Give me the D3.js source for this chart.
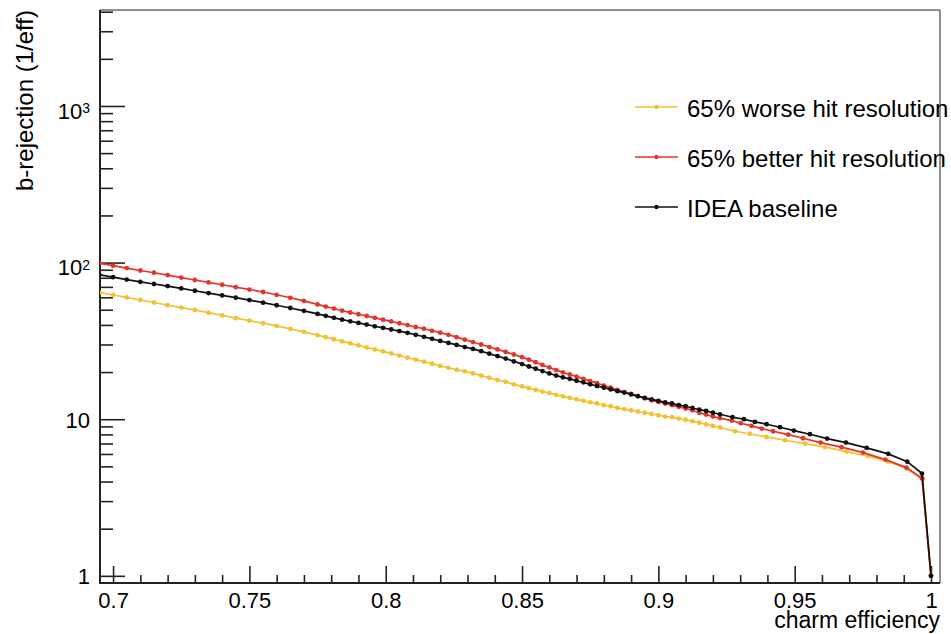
<!DOCTYPE html>
<html>
<head>
<meta charset="utf-8">
<script src="https://cdn.jsdelivr.net/npm/d3@7"></script>
<style>
  body { margin: 0; background: #fff; }
  svg { display: block; font-family: "Liberation Sans", Arial, Helvetica, sans-serif; }
</style>
</head>
<body>
<svg id="chart"></svg>
<script>
// ---- data ----
const seriesNames = ['65% worse hit resolution', '65% better hit resolution', 'IDEA baseline'];
const seriesColors = ['#f2c232', '#e5342b', '#111111'];

// charm efficiency points shared by the main part of the three curves
const effGrid = [
  0.695, 0.700, 0.705, 0.710, 0.715, 0.720, 0.725, 0.730, 0.735, 0.740, 0.745, 0.750, 0.755, 0.760, 0.765, 0.770, 0.775,
  0.778, 0.781, 0.784, 0.787, 0.790, 0.793, 0.796, 0.799, 0.802, 0.805, 0.808, 0.811, 0.814, 0.817, 0.820, 0.823, 0.826,
  0.829, 0.832, 0.835, 0.838, 0.841, 0.844, 0.847, 0.850,
  0.8525, 0.855, 0.8575, 0.860, 0.8625, 0.865, 0.8675, 0.870, 0.8725, 0.875, 0.8775, 0.880, 0.8825, 0.885, 0.8875, 0.890,
  0.8925, 0.895, 0.8975, 0.900, 0.9025, 0.905, 0.9075, 0.910, 0.9125, 0.915, 0.9175, 0.920
];

// b-rejection on effGrid
const worseRej = [
  64.3, 62.1, 59.9, 57.7, 55.6, 53.5, 51.6, 49.8, 47.9, 46.0, 44.2, 42.6, 41.0, 39.4, 37.7, 36.1, 34.4,
  33.4, 32.4, 31.4, 30.5, 29.6, 28.7, 27.9, 27.1, 26.3, 25.5, 24.7, 24.0, 23.3, 22.6, 21.9, 21.3, 20.7,
  20.2, 19.6, 19.0, 18.4, 17.8, 17.3, 16.7, 16.2,
  15.8, 15.4, 15.0, 14.7, 14.3, 14.0, 13.7, 13.4, 13.1, 12.8, 12.6, 12.3, 12.1, 11.8, 11.6, 11.4,
  11.2, 11.0, 10.8, 10.6, 10.4, 10.3, 10.1, 9.92, 9.71, 9.49, 9.27, 9.06
];
const betterRej = [
  99.1, 95.6, 92.2, 89.0, 86.1, 83.2, 80.2, 77.4, 74.7, 72.2, 69.7, 67.3, 64.9, 62.3, 59.6, 56.9, 54.1,
  52.4, 50.9, 49.3, 48.0, 46.8, 45.6, 44.4, 43.2, 42.1, 41.0, 39.9, 38.8, 37.8, 36.7, 35.7, 34.6, 33.4,
  32.2, 31.1, 30.0, 28.9, 27.9, 26.9, 25.9, 24.9,
  24.0, 23.1, 22.2, 21.4, 20.6, 19.9, 19.3, 18.7, 18.1, 17.5, 17.0, 16.4, 15.9, 15.4, 14.9, 14.5,
  14.1, 13.6, 13.2, 12.9, 12.6, 12.3, 12.0, 11.7, 11.4, 11.0, 10.7, 10.4
];
const baselineRej = [
  83.5, 80.7, 77.9, 75.4, 73.0, 70.8, 68.4, 66.1, 63.9, 61.7, 59.7, 57.6, 55.5, 53.4, 51.3, 49.2, 47.0,
  45.7, 44.4, 43.2, 42.2, 41.2, 40.2, 39.2, 38.3, 37.4, 36.5, 35.6, 34.6, 33.6, 32.6, 31.6, 30.7, 29.8,
  28.9, 28.1, 27.2, 26.2, 25.3, 24.4, 23.4, 22.5,
  21.7, 21.0, 20.3, 19.6, 19.0, 18.5, 18.1, 17.6, 17.2, 16.7, 16.3, 15.9, 15.5, 15.1, 14.8, 14.4,
  14.0, 13.7, 13.4, 13.1, 12.8, 12.6, 12.3, 12.1, 11.8, 11.5, 11.3, 11.0
];

// high efficiency tails (own points per curve)
const worseTailEff = [0.9226, 0.9281, 0.9336, 0.9397, 0.9464, 0.9538, 0.9611, 0.9690, 0.9770, 0.9843, 0.9910, 0.9969, 1.0];
const worseTailRej = [8.85, 8.38, 8.05, 7.71, 7.34, 6.99, 6.63, 6.21, 5.81, 5.36, 4.84, 4.14, 1.0];
const betterTailEff = [0.9226, 0.9269, 0.9302, 0.9342, 0.9379, 0.9421, 0.9476, 0.9531, 0.9595, 0.9672, 0.9751, 0.9833, 0.9910, 0.9967, 1.0];
const betterTailRej = [10.15, 9.80, 9.43, 9.06, 8.71, 8.38, 7.97, 7.56, 7.09, 6.63, 6.12, 5.52, 4.91, 4.20, 1.0];
const baselineTailEff = [0.9226, 0.9272, 0.9314, 0.9354, 0.9397, 0.9446, 0.9497, 0.9556, 0.9619, 0.9688, 0.9764, 0.9843, 0.9913, 0.9967, 1.0];
const baselineTailRej = [10.75, 10.30, 10.0, 9.61, 9.29, 8.89, 8.46, 8.02, 7.52, 7.09, 6.56, 6.01, 5.36, 4.50, 1.0];

// axis ticks
const xTickValues = [0.7, 0.75, 0.8, 0.85, 0.9, 0.95, 1];
const xTickLabels = ['0.7', '0.75', '0.8', '0.85', '0.9', '0.95', '1'];
const yTickValues = [1, 10, 100, 1000];
const yTickBases = ['1', '10', '10', '10'];
const yTickPowers = ['', '', '2', '3'];

// ---- layout ----
const width = 951;
const height = 634;
const frame = { left: 100, right: 940, top: 10, bottom: 583 };

const svg = d3.select('#chart').attr('width', width).attr('height', height);

const x = d3.scaleLinear().domain([0.6952, 1.0033]).range([frame.left, frame.right]);
const y = d3.scaleLog().domain([0.9, 4100]).range([frame.bottom, frame.top]);

const makeSeries = (rej, tailEff, tailRej) =>
  effGrid.map((e, i) => ({ eff: e, rej: rej[i] }))
    .concat(tailEff.map((e, i) => ({ eff: e, rej: tailRej[i] })));

const series = [
  makeSeries(worseRej, worseTailEff, worseTailRej),
  makeSeries(betterRej, betterTailEff, betterTailRej),
  makeSeries(baselineRej, baselineTailEff, baselineTailRej)
];

svg.append('rect').attr('width', width).attr('height', height).attr('fill', '#fff');

// clip the curves to the frame
svg.append('clipPath').attr('id', 'frameClip')
  .append('rect')
  .attr('x', frame.left).attr('y', frame.top)
  .attr('width', frame.right - frame.left).attr('height', frame.bottom - frame.top);

// ---- axes (ROOT style, ticks pointing inwards) ----
const xMinor = d3.range(70, 101).map((d) => d / 100).filter((d) => !xTickValues.some((t) => Math.abs(t - d) < 1e-6));
const yMinor = [];
[1, 10, 100, 1000].forEach((dec) => {
  for (let k = 2; k <= 9; k++) if (dec * k < 4100) yMinor.push(dec * k);
});

const xAxisG = svg.append('g').attr('transform', 'translate(0,' + frame.bottom + ')');
xAxisG.call(d3.axisBottom(x).tickValues(xMinor).tickSize(-8).tickSizeOuter(0).tickFormat(''));
xAxisG.append('g').call(
  d3.axisBottom(x).tickValues(xTickValues).tickSize(-17).tickSizeOuter(0).tickPadding(9)
    .tickFormat((d, i) => xTickLabels[i])
);
xAxisG.selectAll('.domain').remove();
xAxisG.selectAll('line').attr('stroke', '#222').attr('stroke-width', 1.6);
xAxisG.selectAll('text').attr('fill', '#000').style('font-size', '22px').style('font-family', 'inherit');

const yAxisG = svg.append('g').attr('transform', 'translate(' + frame.left + ',0)');
yAxisG.call(d3.axisLeft(y).tickValues(yMinor).tickSize(-13).tickSizeOuter(0).tickFormat(''));
const yMajorG = yAxisG.append('g').call(
  d3.axisLeft(y).tickValues(yTickValues).tickSize(-25).tickSizeOuter(0).tickPadding(10).tickFormat('')
);
yAxisG.selectAll('.domain').remove();
yAxisG.selectAll('line').attr('stroke', '#222').attr('stroke-width', 1.6);

// y labels with superscripts
yMajorG.selectAll('.tick text').each(function (d, i) {
  const t = d3.select(this)
    .attr('fill', '#000')
    .style('font-size', '22px')
    .style('font-family', 'inherit')
    .attr('dy', yTickPowers[i] ? '0.55em' : '0.36em')
    .text(null);
  t.append('tspan').text(yTickBases[i]);
  if (yTickPowers[i]) {
    t.append('tspan').attr('dy', '-0.4em').style('font-size', '14px').text(yTickPowers[i]);
  }
});

// frame
svg.append('line').attr('x1', frame.left).attr('x2', frame.right).attr('y1', frame.top).attr('y2', frame.top)
  .attr('stroke', '#222').attr('stroke-width', 1);
svg.append('line').attr('x1', frame.right).attr('x2', frame.right).attr('y1', frame.top).attr('y2', frame.bottom)
  .attr('stroke', '#222').attr('stroke-width', 1);
svg.append('line').attr('x1', frame.left).attr('x2', frame.left).attr('y1', frame.top).attr('y2', frame.bottom + 1)
  .attr('stroke', '#222').attr('stroke-width', 2);
svg.append('line').attr('x1', frame.left - 1).attr('x2', frame.right).attr('y1', frame.bottom).attr('y2', frame.bottom)
  .attr('stroke', '#222').attr('stroke-width', 2);

// ---- curves ----
const line = d3.line().x((d) => x(d.eff)).y((d) => y(d.rej));
const plot = svg.append('g').attr('clip-path', 'url(#frameClip)');

series.forEach((data, i) => {
  const g = plot.append('g');
  g.append('path')
    .datum(data)
    .attr('d', line)
    .attr('fill', 'none')
    .attr('stroke', seriesColors[i])
    .attr('stroke-width', 1.7);
  g.selectAll('circle')
    .data(data)
    .enter()
    .append('circle')
    .attr('cx', (d) => x(d.eff))
    .attr('cy', (d) => y(d.rej))
    .attr('r', 2.4)
    .attr('fill', seriesColors[i]);
});

// ---- legend ----
const legend = svg.append('g').attr('transform', 'translate(635,107)');
seriesNames.forEach((name, i) => {
  const row = legend.append('g').attr('transform', 'translate(0,' + i * 50 + ')');
  row.append('line').attr('x1', 0).attr('x2', 43).attr('y1', 0).attr('y2', 0)
    .attr('stroke', seriesColors[i]).attr('stroke-width', 1.6);
  row.append('circle').attr('cx', 21.5).attr('cy', 0).attr('r', 2.2).attr('fill', seriesColors[i]);
  row.append('text').attr('x', 52).attr('y', 10).style('font-size', '24px').attr('fill', '#000').text(name);
});

// ---- titles ----
svg.append('text')
  .attr('x', frame.right)
  .attr('y', 628)
  .attr('text-anchor', 'end')
  .style('font-size', '23px')
  .text('charm efficiency');

svg.append('text')
  .attr('transform', 'translate(33,' + frame.top + ') rotate(-90)')
  .attr('text-anchor', 'end')
  .style('font-size', '24px')
  .text('b-rejection (1/eff)');
</script>
</body>
</html>
